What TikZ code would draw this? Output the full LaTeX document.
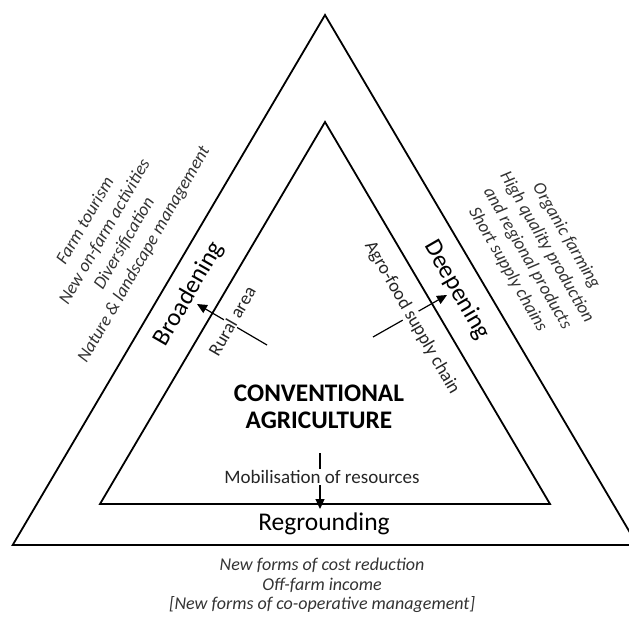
\documentclass[tikz,border=0pt]{standalone}
\usepackage{fontspec}
\setmainfont{Carlito}
\usetikzlibrary{arrows.meta}
\begin{document}
\begin{tikzpicture}[x=1pt,y=-1pt,
  edge/.style={line width=1.8pt, line join=miter},
  push/.style={line width=1.2pt, -{Triangle[length=10pt,width=9pt]}},
  big/.style={font=\fontsize{25}{30}\selectfont, inner sep=0pt},
  lbl/.style={font=\fontsize{18.5}{22}\selectfont, fill=white, inner sep=1pt, text=black!85},
  notes/.style={font=\fontsize{18}{22.5}\selectfont\itshape, align=center, inner sep=0pt, text=black!80},
]
\useasboundingbox (0,0) rectangle (629,619);

% triangle corners
\coordinate (oTop) at (325,15);
\coordinate (oLeft) at (12.7,545);
\coordinate (oRight) at (637.3,545);
\coordinate (iTop) at (325,122);
\coordinate (iLeft) at (100,504);
\coordinate (iRight) at (550,504);

% arrow ends
\coordinate (rA) at (267,345);
\coordinate (rB) at (197,304);
\coordinate (aA) at (373,337);
\coordinate (aB) at (447,295);
\coordinate (mA) at (320,453);
\coordinate (mB) at (320,509);

\draw[push] (rA) -- (rB);
\draw[push] (aA) -- (aB);
\draw[push] (mA) -- (mB);

\node[lbl, rotate=60] (rural) at (232,321) {Rural area};
\node[lbl, rotate=-60] (agro) at (412,318) {Agro-food supply chain};
\node[lbl, font=\fontsize{19}{22}\selectfont] (mobil) at (322,477) {Mobilisation of resources};

\draw[edge] (oTop) -- (oLeft) -- (oRight) -- cycle;
\draw[edge] (iTop) -- (iLeft) -- (iRight) -- cycle;

\node[big, rotate=60] (broad) at (189,294) {Broadening};
\node[big, rotate=-60] (deep) at (457,290) {Deepening};
\node[big, font=\fontsize{25.5}{30}\selectfont] (regr) at (324,524) {Regrounding};
\node[big, font=\fontsize{25.3}{27}\selectfont\bfseries, align=center] (conv) at (319,406.5)
  {CONVENTIONAL\\AGRICULTURE};

\node[notes, rotate=60] (left) at (115,238)
  {Farm tourism\\New on-farm activities\\Diversification\\Nature \& landscape management};
\node[notes, rotate=-60] (right) at (537,253)
  {Organic farming\\High quality production\\and regional products\\Short supply chains};
\node[notes, font=\fontsize{18}{19.5}\selectfont\itshape] (bottom) at (322,585.5)
  {New forms of cost reduction\\Off-farm income\\{[New forms of co-operative management]}};
\end{tikzpicture}
\end{document}
